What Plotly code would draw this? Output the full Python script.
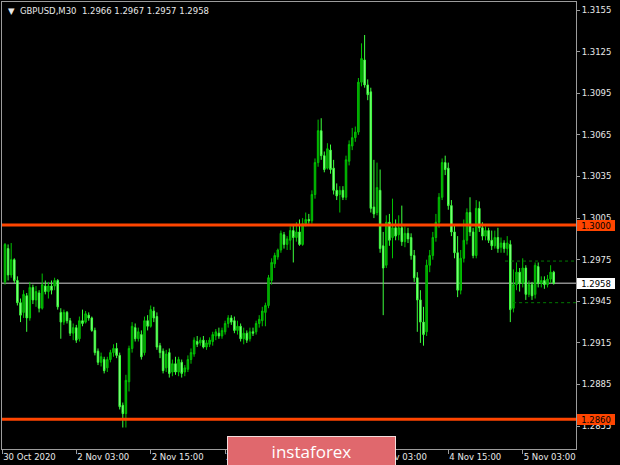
import plotly.graph_objects as go

# ---------------- data ----------------
symbol_title = "\u25BC  GBPUSD,M30  1.2966 1.2967 1.2957 1.2958"

opens = [
1.2959,1.2983,1.2964,1.2975,1.2960,1.2944,1.2937,1.2949,1.2933,1.2955,
1.2946,1.2951,1.2940,1.2956,1.2952,1.2956,1.2956,1.2960,1.2937,1.2930,
1.2937,1.2931,1.2922,1.2926,1.2918,1.2931,1.2930,1.2935,1.2933,1.2924,
1.2909,1.2901,1.2903,1.2897,1.2903,1.2908,1.2911,1.2906,1.2870,1.2864,
1.2887,1.2911,1.2926,1.2918,1.2921,1.2908,1.2931,1.2927,1.2938,1.2934,
1.2913,1.2909,1.2897,1.2908,1.2894,1.2900,1.2894,1.2901,1.2894,1.2896,
1.2903,1.2907,1.2916,1.2915,1.2917,1.2912,1.2914,1.2916,1.2920,1.2922,
1.2920,1.2923,1.2929,1.2933,1.2931,1.2924,1.2927,1.2918,1.2922,1.2918,
1.2923,1.2923,1.2929,1.2931,1.2937,1.2942,1.2960,1.2972,1.2977,1.2982,
1.2993,1.2986,1.2989,1.2996,1.2991,1.2995,1.2986,1.3001,1.3004,1.3003,
1.3022,1.3045,1.3068,1.3050,1.3041,1.3054,1.3041,1.3025,1.3022,1.3025,
1.3020,1.3046,1.3057,1.3063,1.3067,1.3103,1.3119,1.3101,1.3096,1.3013,
1.3009,1.3025,1.2985,1.2971,1.3002,1.2991,1.2998,1.2993,1.2998,1.2988,
1.2994,1.2991,1.2978,1.2962,1.2946,1.2930,1.2923,1.2971,1.2978,1.2991,
1.3002,1.3020,1.3045,1.3041,1.3014,1.2995,1.2980,1.2953,1.2976,1.2989,
1.3009,1.2995,1.2978,1.3012,1.2998,1.2992,1.2996,1.2989,1.2985,1.2991,
1.2984,1.2987,1.2983,1.2986,1.2940,1.2957,1.2966,1.2958,1.2969,1.2950,
1.2957,1.2950,1.2970,1.2958,1.2960,1.2957,1.2961,1.2966]

highs = [
1.2987,1.2986,1.2987,1.2976,1.2963,1.2947,1.2953,1.2951,1.2959,1.2957,
1.2956,1.2953,1.2965,1.2960,1.2959,1.2960,1.2962,1.2961,1.2940,1.2939,
1.2938,1.2933,1.2929,1.2928,1.2934,1.2939,1.2938,1.2937,1.2934,1.2926,
1.2911,1.2908,1.2905,1.2905,1.2910,1.2914,1.2915,1.2908,1.2872,1.2892,
1.2913,1.2930,1.2929,1.2926,1.2924,1.2934,1.2935,1.2942,1.2941,1.2937,
1.2915,1.2911,1.2910,1.2911,1.2903,1.2905,1.2905,1.2903,1.2899,1.2906,
1.2911,1.2919,1.2920,1.2919,1.2920,1.2917,1.2919,1.2923,1.2925,1.2926,
1.2926,1.2931,1.2935,1.2935,1.2934,1.2931,1.2929,1.2926,1.2924,1.2926,
1.2926,1.2931,1.2935,1.2941,1.2944,1.2964,1.2976,1.2980,1.2983,1.2996,
1.2995,1.2992,1.2999,1.3000,1.3002,1.3004,1.3005,1.3009,1.3008,1.3025,
1.3048,1.3076,1.3077,1.3053,1.3059,1.3058,1.3047,1.3030,1.3028,1.3028,
1.3050,1.3061,1.3070,1.3071,1.3106,1.3131,1.3137,1.3105,1.3099,1.3047,
1.3045,1.3040,1.2995,1.3007,1.3008,1.3019,1.3004,1.3007,1.3014,1.2999,
1.2998,1.2994,1.2982,1.2966,1.2953,1.2941,1.2975,1.2982,1.2995,1.3008,
1.3023,1.3048,1.3050,1.3045,1.3018,1.3000,1.2992,1.2982,1.3004,1.3012,
1.3020,1.2998,1.3018,1.3017,1.3002,1.2999,1.2998,1.2996,1.2996,1.2998,
1.2991,1.2989,1.2992,1.2989,1.2968,1.2973,1.2969,1.2976,1.2971,1.2960,
1.2959,1.2973,1.2973,1.2963,1.2963,1.2964,1.2971,1.2967]

lows = [
1.2957,1.2960,1.2962,1.2958,1.2942,1.2930,1.2933,1.2923,1.2931,1.2943,
1.2941,1.2937,1.2939,1.2950,1.2947,1.2950,1.2953,1.2939,1.2918,1.2928,
1.2929,1.2920,1.2917,1.2915,1.2916,1.2927,1.2929,1.2931,1.2923,1.2906,
1.2899,1.2898,1.2893,1.2894,1.2901,1.2905,1.2904,1.2867,1.2854,1.2854,
1.2880,1.2908,1.2916,1.2916,1.2903,1.2906,1.2924,1.2926,1.2930,1.2910,
1.2904,1.2893,1.2894,1.2890,1.2891,1.2892,1.2891,1.2890,1.2891,1.2894,
1.2900,1.2905,1.2912,1.2913,1.2911,1.2910,1.2912,1.2913,1.2917,1.2918,
1.2918,1.2921,1.2926,1.2928,1.2922,1.2921,1.2916,1.2914,1.2915,1.2916,
1.2920,1.2921,1.2926,1.2927,1.2927,1.2940,1.2957,1.2969,1.2975,1.2980,
1.2983,1.2982,1.2982,1.2973,1.2988,1.2985,1.2985,1.2999,1.3001,1.3001,
1.3019,1.3042,1.3047,1.3038,1.3040,1.3037,1.3022,1.3018,1.3009,1.3018,
1.3018,1.3043,1.3054,1.3060,1.3065,1.3100,1.3099,1.3090,1.3009,1.3005,
1.3007,1.2980,1.2935,1.2969,1.2985,1.2976,1.2989,1.2989,1.2985,1.2984,
1.2987,1.2975,1.2959,1.2923,1.2915,1.2913,1.2920,1.2966,1.2975,1.2988,
1.2998,1.3018,1.3036,1.3011,1.2992,1.2976,1.2948,1.2950,1.2973,1.2986,
1.2992,1.2976,1.2976,1.2995,1.2989,1.2989,1.2987,1.2982,1.2983,1.2980,
1.2980,1.2980,1.2978,1.2930,1.2937,1.2953,1.2952,1.2955,1.2946,1.2948,
1.2946,1.2947,1.2955,1.2955,1.2954,1.2955,1.2958,1.2957]

closes = [
1.2986,1.2964,1.2975,1.2960,1.2944,1.2935,1.2950,1.2933,1.2955,1.2946,
1.2952,1.2940,1.2957,1.2952,1.2956,1.2953,1.2960,1.2941,1.2930,1.2937,
1.2931,1.2922,1.2926,1.2917,1.2931,1.2929,1.2936,1.2933,1.2924,1.2908,
1.2901,1.2905,1.2895,1.2903,1.2908,1.2911,1.2906,1.2869,1.2864,1.2888,
1.2911,1.2927,1.2918,1.2923,1.2905,1.2931,1.2927,1.2939,1.2933,1.2912,
1.2908,1.2895,1.2907,1.2893,1.2900,1.2894,1.2903,1.2893,1.2897,1.2903,
1.2908,1.2917,1.2914,1.2917,1.2912,1.2915,1.2917,1.2921,1.2923,1.2920,
1.2924,1.2929,1.2933,1.2930,1.2924,1.2927,1.2918,1.2922,1.2917,1.2923,
1.2922,1.2929,1.2932,1.2938,1.2942,1.2962,1.2973,1.2978,1.2982,1.2994,
1.2986,1.2990,1.2996,1.2991,1.2995,1.2986,1.3001,1.3004,1.3003,1.3022,
1.3045,1.3068,1.3050,1.3040,1.3055,1.3040,1.3025,1.3021,1.3025,1.3020,
1.3047,1.3058,1.3063,1.3067,1.3103,1.3120,1.3101,1.3094,1.3012,1.3008,
1.3027,1.2983,1.2969,1.3002,1.2989,1.2998,1.2992,1.2998,1.2988,1.2994,
1.2990,1.2978,1.2962,1.2946,1.2930,1.2921,1.2971,1.2978,1.2991,1.3002,
1.3020,1.3045,1.3040,1.3014,1.2995,1.2980,1.2953,1.2976,1.2989,1.3009,
1.2995,1.2978,1.3012,1.2998,1.2992,1.2996,1.2989,1.2985,1.2991,1.2983,
1.2987,1.2983,1.2987,1.2939,1.2957,1.2966,1.2958,1.2969,1.2950,1.2957,
1.2949,1.2971,1.2958,1.2960,1.2957,1.2961,1.2966,1.2958]

bar_index = list(range(len(closes)))

x_tick_positions = [-0.9, 23, 47, 71, 95, 119, 143, 167]
x_tick_labels = ["30 Oct 2020", "2 Nov 03:00", "2 Nov 15:00", "3 Nov 03:00",
                 "3 Nov 15:00", "4 Nov 03:00", "4 Nov 15:00", "5 Nov 03:00"]

y_tick_values = [1.2855, 1.2885, 1.2915, 1.2945, 1.2975, 1.3005,
                 1.3035, 1.3065, 1.3095, 1.3125, 1.3155]
y_tick_labels = ["%.4f" % v for v in y_tick_values]

level_lines = [1.3000, 1.2860]        # orange horizontal levels
current_price = 1.2958                 # bid line
channel_levels = [1.2974, 1.2944]      # dashed green lines
channel_starts = [161.3, 163.9]        # bar index where they begin

x_range = [-0.968, 184.19]
y_range = [1.28385, 1.31608]

# ---------------- figure ----------------
W, H = 620, 465
ML, MR, MT, MB = 2, 44, 2, 16
PW, PH = W - ML - MR, H - MT - MB

def px_x(p):
    return (p - ML) / PW

def px_y(p):
    return (H - MB - p) / PH

FONT = "DejaVu Sans"
ORANGE = "#ff4500"

fig = go.Figure()

fig.add_trace(go.Candlestick(
    x=bar_index, open=opens, high=highs, low=lows, close=closes,
    increasing=dict(line=dict(color="#00c400", width=1), fillcolor="#009600"),
    decreasing=dict(line=dict(color="#3cff3c", width=1), fillcolor="#a6ffa6"),
    whiskerwidth=0, showlegend=False, hoverinfo="skip"))

for lvl, start in zip(channel_levels, channel_starts):
    fig.add_trace(go.Scatter(
        x=[start, x_range[1]], y=[lvl, lvl], mode="lines",
        line=dict(color="#007a00", width=1, dash="3px,3px"),
        showlegend=False, hoverinfo="skip"))

shapes = []
shapes.append(dict(type="line", xref="paper", yref="y", x0=0, x1=1,
                   y0=current_price, y1=current_price,
                   line=dict(color="#8c8c8c", width=1.5), layer="below"))
for lvl in level_lines:
    shapes.append(dict(type="line", xref="paper", yref="y", x0=0, x1=1,
                       y0=lvl, y1=lvl, line=dict(color=ORANGE, width=3),
                       layer="above"))

annotations = []
annotations.append(dict(text=symbol_title, xref="paper", yref="paper",
                        x=px_x(6), y=px_y(11), xanchor="left", yanchor="middle",
                        showarrow=False,
                        font=dict(family=FONT, size=8.5, color="#e8e8e8")))
for lvl in level_lines:
    annotations.append(dict(text="%.4f" % lvl, xref="paper", yref="y",
                            x=px_x(577), y=lvl, xanchor="left", yanchor="middle",
                            showarrow=False, bgcolor=ORANGE, width=36, height=9,
                            borderpad=1, borderwidth=0,
                            font=dict(family=FONT, size=8.5, color="#000000")))
annotations.append(dict(text="%.4f" % current_price, xref="paper", yref="y",
                        x=px_x(577), y=current_price, xanchor="left", yanchor="middle",
                        showarrow=False, bgcolor="#ffffff", width=36, height=9,
                        borderpad=1, borderwidth=0,
                        font=dict(family=FONT, size=8.5, color="#000000")))
annotations.append(dict(text="instaforex", xref="paper", yref="paper",
                        x=px_x(311), y=px_y(451), xanchor="center", yanchor="middle",
                        showarrow=False, bgcolor="#e0686d", bordercolor="#f4dcdc",
                        borderwidth=1, borderpad=0, width=167, height=28,
                        font=dict(family="Open Sans", size=17, color="#ffffff")))

fig.update_layout(
    width=W, height=H,
    margin=dict(l=ML, r=MR, t=MT, b=MB, pad=0),
    paper_bgcolor="#000000", plot_bgcolor="#000000",
    showlegend=False, hovermode=False,
    shapes=shapes, annotations=annotations,
    xaxis=dict(range=x_range, rangeslider=dict(visible=False),
               showgrid=False, zeroline=False,
               showline=True, linecolor="#9c9c9c", linewidth=1, mirror=True,
               tickmode="array", tickvals=x_tick_positions, ticktext=x_tick_labels,
               ticks="outside", ticklen=4, tickcolor="#9c9c9c",
               ticklabelposition="outside right",
               tickfont=dict(family=FONT, size=8.5, color="#e8e8e8")),
    yaxis=dict(range=y_range, side="right",
               showgrid=False, zeroline=False,
               showline=True, linecolor="#9c9c9c", linewidth=1, mirror=True,
               tickmode="array", tickvals=y_tick_values, ticktext=y_tick_labels,
               ticks="outside", ticklen=3, tickcolor="#9c9c9c",
               tickfont=dict(family=FONT, size=8.5, color="#e8e8e8")),
)

fig.write_html("out.html",
               config={"displayModeBar": False, "staticPlot": True},
               post_script="document.body.style.margin='0px';"
                           "document.body.style.background='#000000';")
